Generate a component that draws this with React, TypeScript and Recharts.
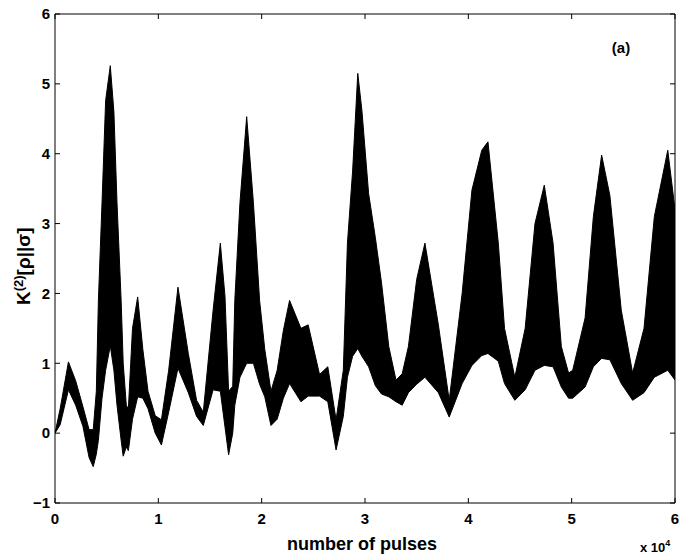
import React from "react";
import {
  ComposedChart,
  Area,
  Line,
  XAxis,
  YAxis,
  Customized,
} from "recharts";

// envelope of the (densely oscillating) K2 signal
const pulses = [
  0, 500, 1300, 2000, 2700, 3300, 3700, 4000, 4200, 4550, 4900, 5350, 5700,
  6000, 6400, 6600, 6900, 7100, 7500, 8000, 8500, 9000, 9700, 10300, 11000,
  11900, 12900, 13700, 14350, 15300, 16000, 16450, 16800, 17200, 17400, 17900,
  18550, 19200, 19800, 20300, 20900, 21500, 22100, 22700, 23800, 24500, 25600,
  26400, 27200, 27900, 28300, 28800, 29300, 29700, 30350, 31000, 31600, 32300,
  33000, 33600, 34200, 35000, 35800, 37100, 38150, 39400, 40350, 41300, 41900,
  42900, 43500, 44500, 45500, 46450, 47350, 48200, 49000, 49700, 50100, 51300,
  52100, 52900, 53700, 54800, 55900, 57000, 58000, 59300, 60000,
];

const upper = [
  0.0, 0.35, 1.02, 0.75, 0.38, 0.05, 0.05, 0.6, 1.9, 3.3, 4.76, 5.26, 4.6,
  3.3, 1.9, 1.0, 0.4, 0.35, 1.5, 1.95, 1.2, 0.6, 0.25, 0.19, 0.9,
  2.09, 1.14, 0.47, 0.3, 1.76, 2.72, 1.96, 0.6, 0.67, 1.9, 3.3,
  4.53, 3.3, 1.9, 1.2, 0.6, 0.9, 1.47, 1.9, 1.5, 1.55, 0.84,
  0.95, 0.19, 0.9, 2.72, 3.75, 5.15, 4.62, 3.43, 2.8, 2.15, 1.24,
  0.76, 0.85, 1.24, 2.2, 2.72, 1.55, 0.47, 2.0, 3.48, 4.05, 4.17,
  2.72, 1.5, 0.8, 1.5, 3.0, 3.55, 2.72, 1.24, 0.86, 0.9, 1.65,
  3.1, 3.98, 3.4, 1.76, 0.86, 1.5, 3.1, 4.05, 3.2,
];

const lower = [
  0.0, 0.12, 0.62, 0.4, 0.1, -0.35, -0.48, -0.3, -0.1, 0.5, 0.9, 1.25, 0.9,
  0.4, -0.1, -0.33, -0.2, -0.25, 0.2, 0.52, 0.5, 0.35, 0.0, -0.17, 0.3,
  0.93, 0.58, 0.24, 0.11, 0.62, 0.6, 0.09, -0.31, 0.0, 0.4, 0.8,
  1.0, 1.0, 0.7, 0.52, 0.11, 0.2, 0.5, 0.71, 0.45, 0.53, 0.53,
  0.45, -0.24, 0.24, 0.8, 1.1, 1.21, 1.1, 0.95, 0.68, 0.56, 0.52,
  0.45, 0.4, 0.58, 0.7, 0.8, 0.58, 0.23, 0.71, 0.97, 1.11, 1.14,
  1.03, 0.71, 0.47, 0.62, 0.9, 0.97, 0.95, 0.66, 0.5, 0.5, 0.66,
  0.95, 1.07, 1.05, 0.71, 0.47, 0.58, 0.8, 0.9, 0.76,
];

const xTicks = [0, 10000, 20000, 30000, 40000, 50000, 60000];
const yTicks = [-1, 0, 1, 2, 3, 4, 5, 6];

const data = pulses.map((p, i) => ({
  pulses: p,
  band: [lower[i], upper[i]],
  top: upper[i],
}));

const font = "'Liberation Sans', Arial, Helvetica, sans-serif";

function Labels() {
  return (
    <g fontFamily={font} fontWeight="bold" fill="#000">
      <text x={362} y={550} fontSize={18} textAnchor="middle">
        number of pulses
      </text>
      <text x={640} y={552} fontSize={13}>
        x 10<tspan dy={-6} fontSize={9}>4</tspan>
      </text>
      <text x={621} y={53} fontSize={15} textAnchor="middle">
        (a)
      </text>
      <text transform="translate(30,305) rotate(-90)" fontSize={19}>
        K<tspan dy={-7} fontSize={13}>(2)</tspan>
        <tspan dy={7}>[ρ||σ]</tspan>
      </text>
    </g>
  );
}

const blank = () => "";

export default function App() {
  const tickStyle = { fontFamily: font, fontWeight: "bold", fontSize: 15, fill: "#000" };
  return (
    <div style={{ position: "absolute", left: 0, top: 0, background: "#fff" }}>
      <ComposedChart
        width={685}
        height={556}
        data={data}
        margin={{ top: 0, right: 0, bottom: 0, left: 15 }}
      >
        <XAxis
          dataKey="pulses"
          type="number"
          domain={[0, 60000]}
          ticks={xTicks}
          tickFormatter={(v: number) => String(v / 10000)}
          tickSize={-5}
          tickMargin={15}
          height={53}
          stroke="#000"
          tick={tickStyle}
          allowDataOverflow
        />
        <XAxis
          xAxisId="top"
          orientation="top"
          dataKey="pulses"
          type="number"
          domain={[0, 60000]}
          ticks={xTicks}
          tickFormatter={blank}
          tickSize={-5}
          height={14}
          stroke="#000"
          allowDataOverflow
        />
        <YAxis
          type="number"
          domain={[-1, 6]}
          ticks={yTicks}
          tickFormatter={(v: number) => (v < 0 ? "\u2212" + Math.abs(v) : String(v))}
          tickSize={-5}
          tickMargin={10}
          width={40}
          stroke="#000"
          tick={tickStyle}
          allowDataOverflow
        />
        <YAxis
          yAxisId="right"
          orientation="right"
          type="number"
          domain={[-1, 6]}
          ticks={yTicks}
          tickFormatter={blank}
          tickSize={-5}
          width={10}
          stroke="#000"
          allowDataOverflow
        />
        <Area
          type="linear"
          dataKey="band"
          stroke="#000"
          strokeWidth={1}
          fill="#000"
          fillOpacity={1}
          isAnimationActive={false}
          dot={false}
          activeDot={false}
        />
        {/* invisible series so the mirrored top/right axes get drawn */}
        <Line
          xAxisId="top"
          yAxisId="right"
          dataKey="top"
          stroke="none"
          dot={false}
          activeDot={false}
          isAnimationActive={false}
        />
        <Customized component={<Labels />} />
      </ComposedChart>
    </div>
  );
}
